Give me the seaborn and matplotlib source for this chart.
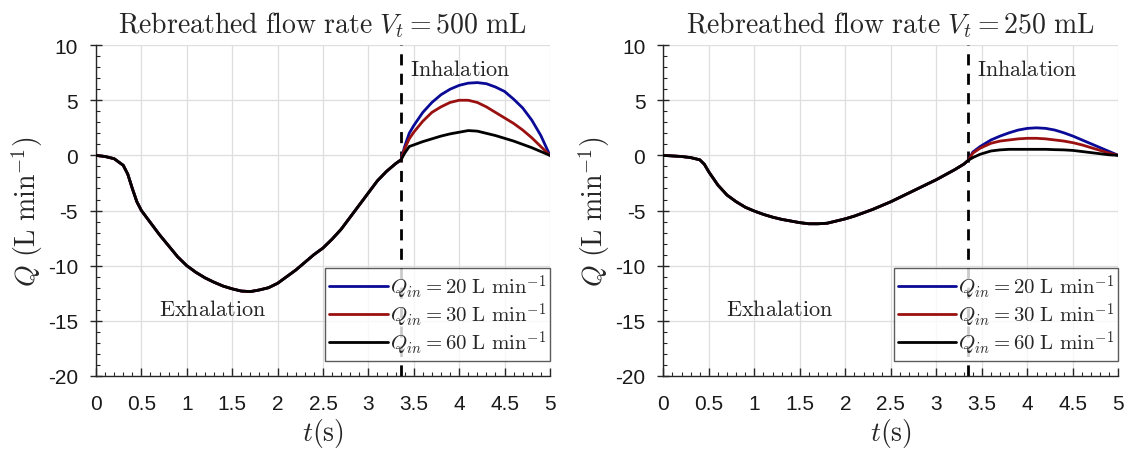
import numpy as np
import pandas as pd
import seaborn as sns
import matplotlib.pyplot as plt
from matplotlib.ticker import MultipleLocator

sns.set_theme(style="ticks")
plt.rcParams['font.family'] = ['Liberation Sans', 'DejaVu Sans']
plt.rcParams['mathtext.fontset'] = 'cm'
plt.rcParams['axes.unicode_minus'] = False

# ---- left panel, Vt = 500 mL ----
t_exh_500 = [0, 0.1, 0.2, 0.3, 0.35, 0.4, 0.45, 0.5, 0.6, 0.7, 0.8, 0.9, 1.0, 1.1, 1.2, 1.3,
             1.4, 1.5, 1.6, 1.7, 1.8, 1.9, 2.0, 2.1, 2.2, 2.3, 2.4, 2.5, 2.6, 2.7, 2.8,
             2.9, 3.0, 3.1, 3.2, 3.3, 3.36]
q_exh_500 = [0, -0.1, -0.3, -0.9, -1.7, -3.0, -4.2, -5.0, -6.1, -7.2, -8.2, -9.2, -10.0, -10.6,
             -11.1, -11.5, -11.85, -12.1, -12.3, -12.35, -12.2, -12.0, -11.6, -11.0, -10.4,
             -9.7, -9.0, -8.4, -7.6, -6.7, -5.6, -4.5, -3.4, -2.3, -1.45, -0.75, -0.4]
t_inh_500 = [3.36, 3.4, 3.45, 3.5, 3.6, 3.7, 3.8, 3.9, 4.0, 4.1, 4.2, 4.3, 4.4, 4.5, 4.6,
             4.7, 4.8, 4.9, 5.0]
q20_500 = [-0.4, 0.8, 2.0, 2.7, 3.9, 4.8, 5.5, 6.0, 6.35, 6.55, 6.6, 6.5, 6.2, 5.8, 5.1,
           4.3, 3.2, 1.8, 0]
q30_500 = [-0.4, 0.6, 1.5, 2.1, 3.1, 3.9, 4.4, 4.8, 5.0, 5.0, 4.8, 4.4, 3.9, 3.4, 2.9,
           2.3, 1.6, 0.8, 0]
q60_500 = [-0.4, 0.2, 0.8, 0.95, 1.25, 1.5, 1.75, 1.95, 2.1, 2.25, 2.2, 2.0, 1.8, 1.55,
           1.3, 1.0, 0.7, 0.35, 0]

# ---- right panel, Vt = 250 mL ----
t_exh_250 = [0, 0.1, 0.2, 0.3, 0.4, 0.45, 0.5, 0.6, 0.7, 0.8, 0.9, 1.0, 1.1, 1.2, 1.3,
             1.4, 1.5, 1.6, 1.7, 1.8, 1.9, 2.0, 2.1, 2.2, 2.3, 2.4, 2.5, 2.6, 2.7, 2.8,
             2.9, 3.0, 3.1, 3.2, 3.3, 3.35]
q_exh_250 = [0, -0.05, -0.1, -0.2, -0.4, -0.8, -1.5, -2.7, -3.6, -4.2, -4.7, -5.05, -5.35,
             -5.6, -5.8, -5.95, -6.1, -6.2, -6.2, -6.15, -5.95, -5.75, -5.5, -5.2, -4.9,
             -4.55, -4.2, -3.8, -3.4, -3.0, -2.6, -2.2, -1.75, -1.3, -0.8, -0.45]
t_inh_250 = [3.35, 3.4, 3.48, 3.6, 3.7, 3.8, 3.9, 4.0, 4.1, 4.2, 4.3, 4.4, 4.5, 4.6, 4.7,
             4.8, 4.9, 5.0]
q20_250 = [-0.45, 0.3, 0.8, 1.4, 1.75, 2.05, 2.3, 2.45, 2.5, 2.45, 2.3, 2.05, 1.75, 1.4,
           1.05, 0.7, 0.35, 0]
q30_250 = [-0.45, 0.2, 0.65, 1.1, 1.3, 1.4, 1.5, 1.55, 1.55, 1.5, 1.4, 1.3, 1.15, 0.95,
           0.7, 0.45, 0.2, 0]
q60_250 = [-0.45, -0.2, 0.1, 0.4, 0.5, 0.55, 0.55, 0.55, 0.55, 0.55, 0.52, 0.5, 0.45,
           0.35, 0.25, 0.15, 0.05, 0]

t_switch = [3.36, 3.35]
titles = [r"$\mathrm{Rebreathed\ flow\ rate}\ V_t = 500\ \mathrm{mL}$",
          r"$\mathrm{Rebreathed\ flow\ rate}\ V_t = 250\ \mathrm{mL}$"]
qin_labels = [r"$Q_{in} = 20\ \mathrm{L\ min}^{-1}$",
              r"$Q_{in} = 30\ \mathrm{L\ min}^{-1}$",
              r"$Q_{in} = 60\ \mathrm{L\ min}^{-1}$"]
colors = ["#0a0a96", "#9a1010", "#000000"]

panels = [
    (t_exh_500, q_exh_500, t_inh_500, [q20_500, q30_500, q60_500]),
    (t_exh_250, q_exh_250, t_inh_250, [q20_250, q30_250, q60_250]),
]

fig = plt.figure(figsize=(11.32, 4.52), dpi=100)
axes = [fig.add_axes([0.0848, 0.166, 0.401, 0.732]),
        fig.add_axes([0.586, 0.166, 0.402, 0.732])]

for i, ax in enumerate(axes):
    t_exh, q_exh, t_inh, q_inh = panels[i]
    ax.grid(True, which='major', color='#dedede', lw=0.9)
    ax.set_axisbelow(True)
    ax.axvline(t_switch[i], color='black', ls=(0, (4, 3)), lw=2, zorder=1)
    for k in range(3):
        t_all = t_exh + t_inh[1:]
        q_all = q_exh + q_inh[k][1:]
        df = pd.DataFrame({'t': t_all, 'Q': q_all})
        sns.lineplot(data=df, x='t', y='Q', ax=ax, color=colors[k], lw=2,
                     sort=False, label=qin_labels[k], zorder=3 + k)
    ax.set_xlim(0, 5)
    ax.set_ylim(-20, 10)
    ax.xaxis.set_minor_locator(MultipleLocator(0.1))
    ax.yaxis.set_minor_locator(MultipleLocator(1))
    ax.set_xticks(np.arange(0, 5.01, 0.5))
    ax.set_xticklabels(['0', '0.5', '1', '1.5', '2', '2.5', '3', '3.5', '4', '4.5', '5'])
    ax.set_yticks([-20, -15, -10, -5, 0, 5, 10])
    ax.set_yticklabels(['-20', '-15', '-10', '-5', '0', '5', '10'])
    ax.tick_params(axis='x', which='major', direction='in', length=6, width=1,
                   labelsize=15, pad=13, color='#262626', labelcolor='#1a1a1a')
    ax.tick_params(axis='x', which='minor', direction='in', length=3, width=0.8)
    ax.tick_params(axis='y', which='major', direction='inout', length=8, width=1,
                   labelsize=15, pad=9, color='#262626', labelcolor='#1a1a1a')
    ax.tick_params(axis='y', which='minor', direction='in', length=3, width=0.8)
    for s in ['top', 'right']:
        ax.spines[s].set_visible(False)
    for s in ['left', 'bottom']:
        ax.spines[s].set_color('#262626')
        ax.spines[s].set_linewidth(1)
    ax.set_title(titles[i], fontsize=20, pad=9)
    ax.set_xlabel(r"$t(\mathrm{s})$", fontsize=20, labelpad=2)
    ax.set_ylabel(r"$Q\ (\mathrm{L\ min}^{-1})$", fontsize=20, labelpad=2)
    ax.text(t_switch[i] + 0.1, 7.8, r"$\mathrm{Inhalation}$", fontsize=16,
            va='center', ha='left')
    ax.text(1.28, -14.0, r"$\mathrm{Exhalation}$", fontsize=16, va='center', ha='center')
    leg = ax.legend(loc='lower right', bbox_to_anchor=(1.0, 0.045), borderaxespad=0,
                    fontsize=15, handlelength=2.8, handletextpad=0.1, labelspacing=0.0,
                    borderpad=0.2, frameon=True, fancybox=False)
    leg.get_frame().set_edgecolor('#333333')
    leg.get_frame().set_linewidth(1)

fig.savefig("out.png", dpi=100)
